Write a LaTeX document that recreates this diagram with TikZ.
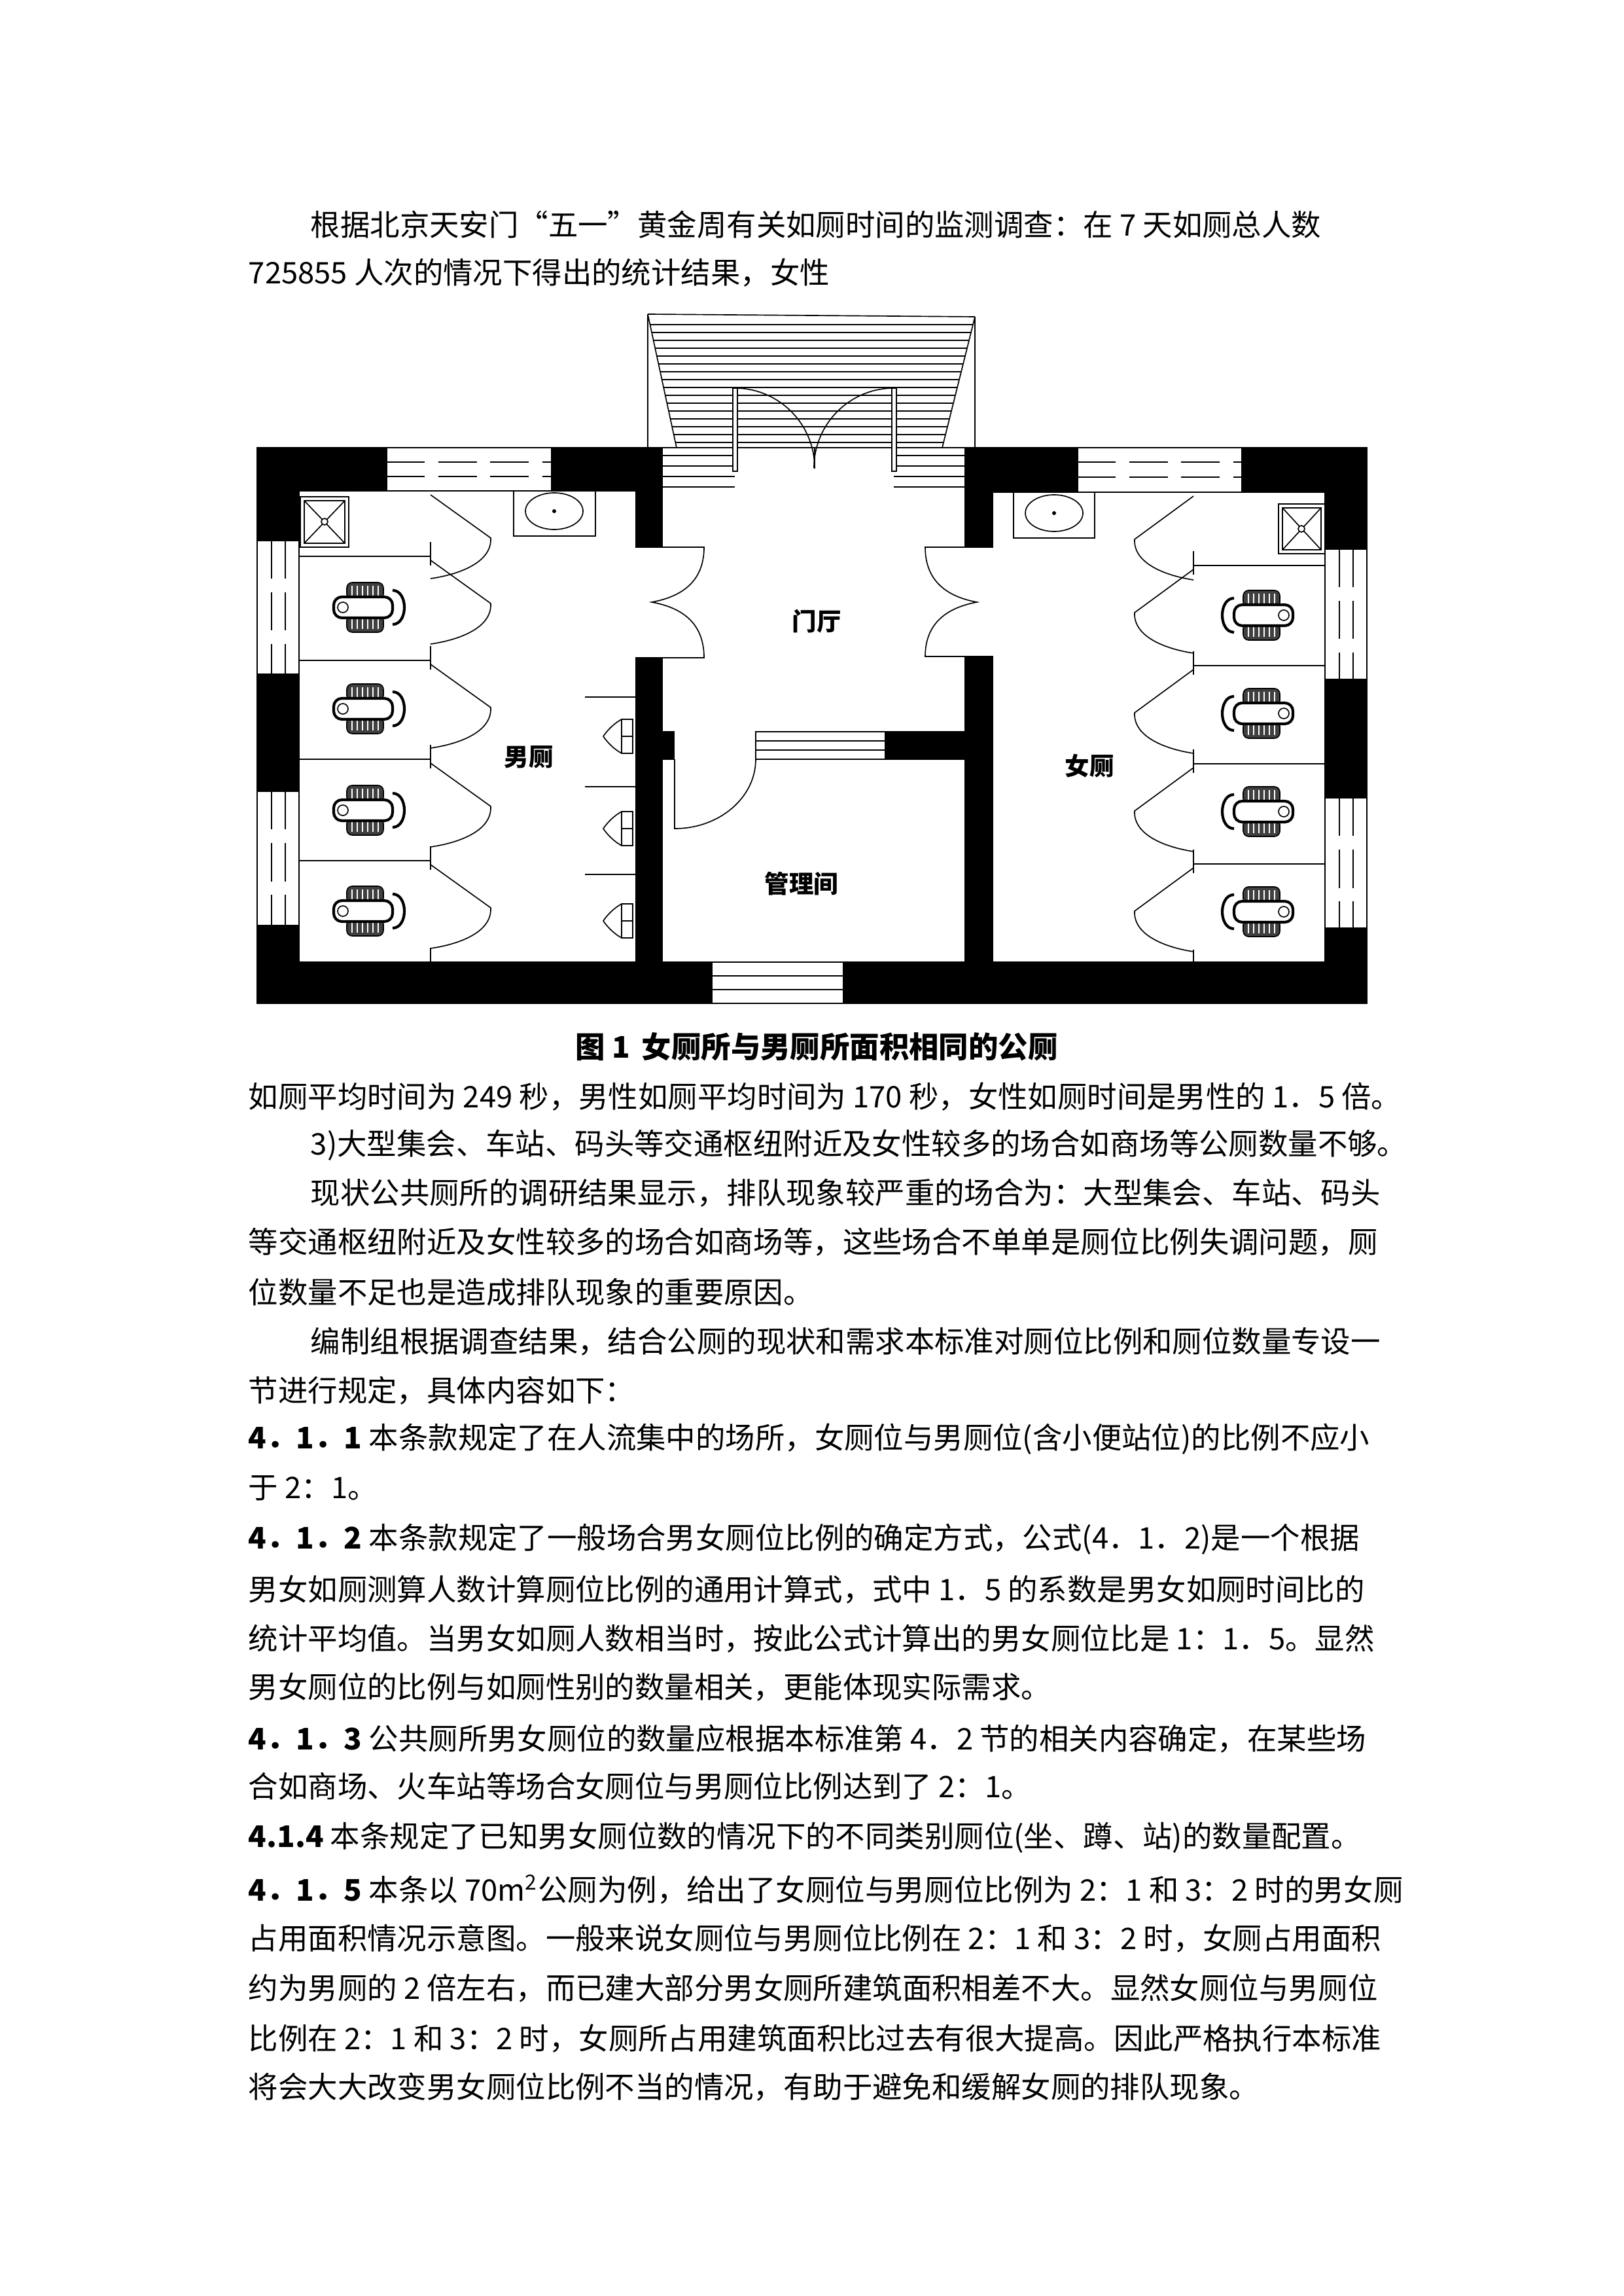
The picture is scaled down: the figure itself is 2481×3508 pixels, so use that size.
\documentclass[tikz,border=0pt]{standalone}
\usepackage{fontspec}
\setmainfont{Noto Sans CJK SC}
\usepackage{tikz}

\tikzset{
  wall/.style={fill=black,draw=black},
  txt/.style={anchor=west,inner sep=0pt,font=\fontsize{10.9}{12}\selectfont},
  lbl/.style={inner sep=0pt,font=\fontsize{9}{10}\selectfont\bfseries},
  pan/.pic={
    \draw[fill=black!75,rounded corners=2pt] (-26,-38) rectangle (30,-12);
    \draw[fill=black!75,rounded corners=2pt] (-26,12) rectangle (30,38);
    \foreach \i in {-18,-10,...,26} \draw[white,line width=0.6pt] (\i,-33) -- (\i,-17) (\i,17) -- (\i,33);
    \draw[fill=white,line width=1pt,rounded corners=3pt] (-46,-16) rectangle (44,16);
    \draw (-32,0) circle[radius=8];
    \draw[line width=1pt] (44,-26) .. controls (68,-26) and (68,26) .. (44,26);
  }
}

\begin{document}
\begin{tikzpicture}[x=0.24pt,y=-0.24pt]
\useasboundingbox (0,0) rectangle (2481,3508);

% text above the plan
\node[txt] (l1) at (474,343) {根据北京天安门“五一”黄金周有关如厕时间的监测调查：在 7 天如厕总人数};
\node[txt] (l2) at (379,417) {725855 人次的情况下得出的统计结果，女性};

% walls
\fill[wall] (393,684) rectangle (591,750);
\fill[wall] (843,684) rectangle (1012,750);
\fill[wall] (393,684) rectangle (457,826);
\fill[wall] (393,1030) rectangle (457,1209);
\fill[wall] (393,1414) rectangle (457,1533);
\fill[wall] (393,1470) rectangle (1088,1533);
\fill[wall] (972,684) rectangle (1012,836);
\fill[wall] (972,1005) rectangle (1012,1470);
\fill[wall] (1012,1118) rectangle (1030,1160);
\fill[wall] (1353,1118) rectangle (1475,1160);
\fill[wall] (1289,1470) rectangle (2089,1533);
\fill[wall] (1475,684) rectangle (1517,836);
\fill[wall] (1475,1003) rectangle (1517,1470);
\fill[wall] (1475,684) rectangle (1647,752);
\fill[wall] (1898,684) rectangle (2089,752);
\fill[wall] (2025,684) rectangle (2089,839);
\fill[wall] (2025,1038) rectangle (2089,1219);
\fill[wall] (2025,1418) rectangle (2089,1533);

% windows
\draw (591,684) rectangle (843,750);
\draw[dashed,dash pattern=on 14pt off 5pt] (591,706) -- (843,706) (591,728) -- (843,728);
\draw (1647,684) rectangle (1898,752);
\draw[dashed,dash pattern=on 14pt off 5pt] (1647,706) -- (1898,706) (1647,729) -- (1898,729);
\foreach \ya/\yb in {826/1030,1209/1414} {
  \draw (393,\ya) rectangle (457,\yb);
  \draw[dashed,dash pattern=on 14pt off 5pt] (415,\ya) -- (415,\yb) (436,\ya) -- (436,\yb);
}
\foreach \ya/\yb in {839/1038,1219/1418} {
  \draw (2025,\ya) rectangle (2089,\yb);
  \draw[dashed,dash pattern=on 14pt off 5pt] (2047,\ya) -- (2047,\yb) (2068,\ya) -- (2068,\yb);
}
\draw (1088,1470) rectangle (1289,1533);
\draw (1088,1491) -- (1289,1491) (1088,1512) -- (1289,1512);
\draw (1155,1118) rectangle (1353,1160);
\draw (1155,1132) -- (1353,1132) (1155,1146) -- (1353,1146);

% stairs
\draw (990,480) -- (990,684) (1490,484) -- (1490,684);
\draw (990,480) -- (1490,484);
\draw (990,480) -- (1034,684) (1490,484) -- (1440,684);
\foreach \y in {496,508,...,676} \draw (990+\y*0.2157-103.5,\y) -- (1490-\y*0.25+121,\y);
\foreach \y in {696,712,728,744} \draw (1012,\y) -- (1123,\y) (1366,\y) -- (1475,\y);
\draw (1012,684) -- (1475,684);
\draw[fill=white] (1120,593) rectangle (1127,720);
\draw[fill=white] (1363,593) rectangle (1370,720);
\draw (1123,593) arc[start angle=-90,end angle=0,radius=122];
\draw (1366,593) arc[start angle=-90,end angle=-180,radius=122];
\draw (1245,684) -- (1245,716);

% doors of the hall
\draw (1012,836) -- (1076,836) .. controls (1076,890) and (1040,912) .. (996,920)
  .. controls (1040,928) and (1076,950) .. (1076,1005) -- (1012,1005);
\draw (1475,836) -- (1414,836) .. controls (1414,890) and (1450,912) .. (1493,920)
  .. controls (1450,928) and (1414,950) .. (1414,1003) -- (1475,1003);
\draw (1031,1160) -- (1031,1266) arc[start angle=90,end angle=0,x radius=124,y radius=106];

% men's stalls
\foreach \yt/\yb in {750/850,850/1009,1009/1160,1160/1315,1315/1470} {
  \draw (658,\yt+6) -- (750,\yt+72) .. controls (752,\yt+110) and (700,\yt+128) .. (658,\yt+134);
  \draw (658,\yb-22) -- (658,\yb);
}
\foreach \yp in {850,1009,1160,1315} \draw (457,\yp) -- (658,\yp) (658,\yp) -- (658,\yp+14);
\foreach \y in {928,1083,1238,1392} \pic at (556,\y) {pan};

% women's stalls
\foreach \yt/\yb in {752/864,864/1017,1017/1167,1167/1320,1320/1473} {
  \draw (1824,\yt+6) -- (1734,\yt+72) .. controls (1732,\yt+110) and (1784,\yt+128) .. (1824,\yt+134);
  \draw (1824,\yb-22) -- (1824,\yb);
}
\foreach \yp in {864,1017,1167,1320} \draw (2025,\yp) -- (1824,\yp) (1824,\yp) -- (1824,\yp+14);
\foreach \y in {940,1090,1240,1393} \pic[xscale=-1] at (1930,\y) {pan};

% urinals
\foreach \yp in {1065,1202,1336} \draw (894,\yp) -- (972,\yp);
\foreach \y in {1125,1266,1407} {
  \draw (967,\y-26) -- (950,\y-26) .. controls (932,\y-16) and (922,\y) .. (922,\y)
    .. controls (922,\y) and (932,\y+16) .. (950,\y+26) -- (967,\y+26) -- cycle;
  \draw (950,\y-26) -- (950,\y+26) (950,\y) -- (967,\y);
}

% sinks and showers
\draw (785,750) rectangle (910,819);
\draw (847,781) ellipse[x radius=44,y radius=28];
\fill (847,781) circle[radius=3];
\draw (1549,752) rectangle (1673,822);
\draw (1611,784) ellipse[x radius=44,y radius=28];
\fill (1611,784) circle[radius=3];
\draw (459,759) rectangle (533,836) (465,765) rectangle (527,830) (465,765) -- (527,830) (527,765) -- (465,830);
\draw[fill=white] (496,797) circle[radius=5];
\draw (1954,770) rectangle (2025,846) (1960,776) rectangle (2019,840) (1960,776) -- (2019,840) (2019,776) -- (1960,840);
\draw[fill=white] (1989,808) circle[radius=5];

% room names
\node[lbl] (menting) at (1248,949) {门厅};
\node[lbl] (nance) at (808,1157) {男厕};
\node[lbl] (guanli) at (1225,1350) {管理间};
\node[lbl] (nvce) at (1665,1170) {女厕};

% caption
\node[inner sep=0pt,font=\fontsize{10.9}{12}\selectfont\bfseries] (cap) at (1248,1599) {图 1\, 女厕所与男厕所面积相同的公厕};

% text below the plan
\node[txt] (t1) at (379,1676) {如厕平均时间为 249 秒，男性如厕平均时间为 170 秒，女性如厕时间是男性的 1．5 倍。};
\node[txt] (t2) at (474,1750) {3)大型集会、车站、码头等交通枢纽附近及女性较多的场合如商场等公厕数量不够。};
\node[txt] (t3) at (474,1823) {现状公共厕所的调研结果显示，排队现象较严重的场合为：大型集会、车站、码头};
\node[txt] (t4) at (379,1898) {等交通枢纽附近及女性较多的场合如商场等，这些场合不单单是厕位比例失调问题，厕};
\node[txt] (t5) at (379,1974) {位数量不足也是造成排队现象的重要原因。};
\node[txt] (t6) at (474,2050) {编制组根据调查结果，结合公厕的现状和需求本标准对厕位比例和厕位数量专设一};
\node[txt] (t7) at (379,2125) {节进行规定，具体内容如下：};
\node[txt] (t8) at (379,2199) {\textbf{4．1．1} 本条款规定了在人流集中的场所，女厕位与男厕位(含小便站位)的比例不应小};
\node[txt] (t9) at (379,2274) {于 2：1。};
\node[txt] (t10) at (379,2352) {\textbf{4．1．2} 本条款规定了一般场合男女厕位比例的确定方式，公式(4．1．2)是一个根据};
\node[txt] (t11) at (379,2429) {男女如厕测算人数计算厕位比例的通用计算式，式中 1．5 的系数是男女如厕时间比的};
\node[txt] (t12) at (379,2504) {统计平均值。当男女如厕人数相当时，按此公式计算出的男女厕位比是 1：1．5。显然};
\node[txt] (t13) at (379,2578) {男女厕位的比例与如厕性别的数量相关，更能体现实际需求。};
\node[txt] (t14) at (379,2657) {\textbf{4．1．3} 公共厕所男女厕位的数量应根据本标准第 4．2 节的相关内容确定，在某些场};
\node[txt] (t15) at (379,2729) {合如商场、火车站等场合女厕位与男厕位比例达到了 2：1。};
\node[txt] (t16) at (379,2808) {\textbf{4.1.4} 本条规定了已知男女厕位数的情况下的不同类别厕位(坐、蹲、站)的数量配置。};
\node[txt] (t17) at (379,2887) {\textbf{4．1．5} 本条以 70m\textsuperscript{2}公厕为例，给出了女厕位与男厕位比例为 2：1 和 3：2 时的男女厕};
\node[txt] (t18) at (379,2962) {占用面积情况示意图。一般来说女厕位与男厕位比例在 2：1 和 3：2 时，女厕占用面积};
\node[txt] (t19) at (379,3038) {约为男厕的 2 倍左右，而已建大部分男女厕所建筑面积相差不大。显然女厕位与男厕位};
\node[txt] (t20) at (379,3115) {比例在 2：1 和 3：2 时，女厕所占用建筑面积比过去有很大提高。因此严格执行本标准};
\node[txt] (t21) at (379,3189) {将会大大改变男女厕位比例不当的情况，有助于避免和缓解女厕的排队现象。};
\end{tikzpicture}
\end{document}
